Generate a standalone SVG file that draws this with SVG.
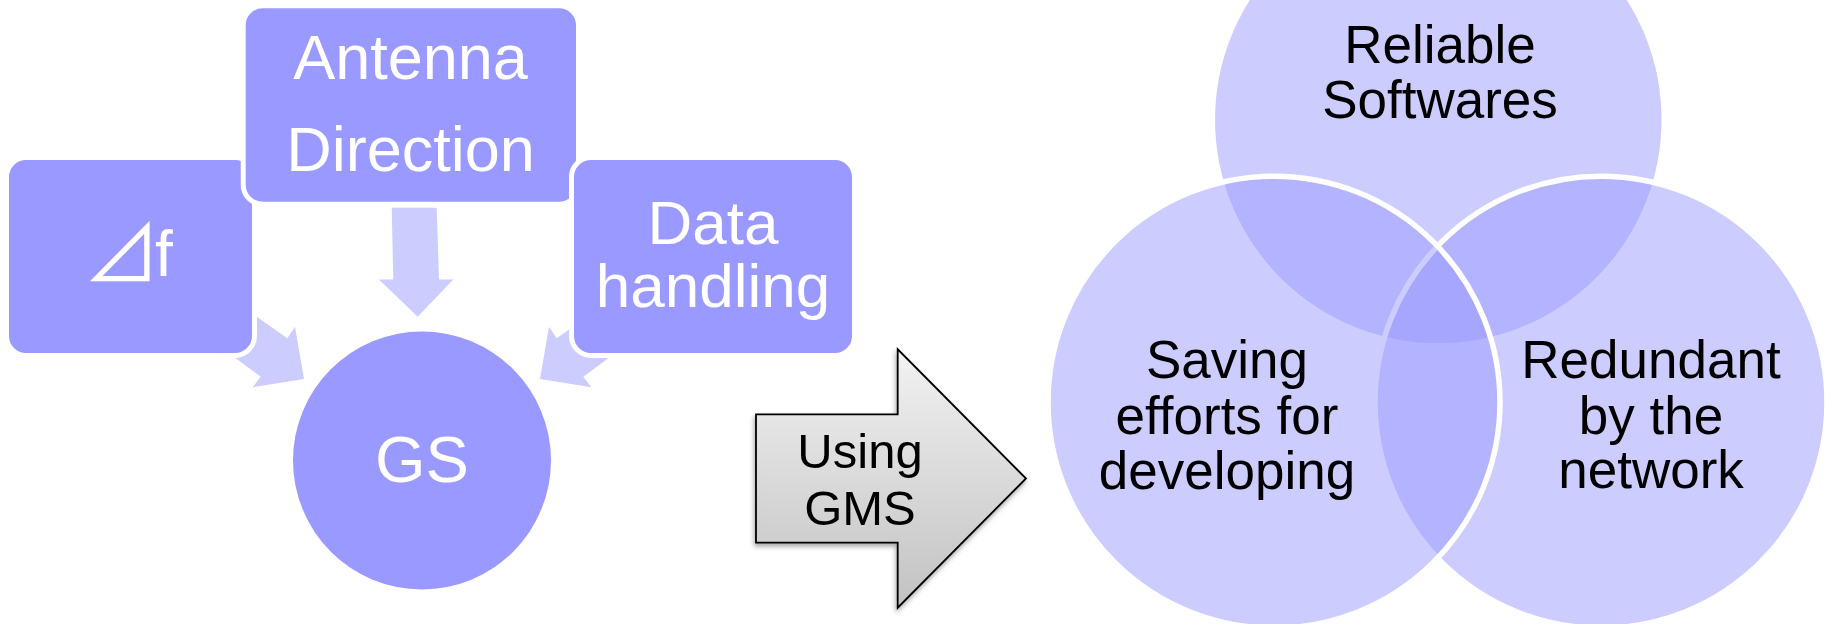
<svg xmlns="http://www.w3.org/2000/svg" width="1827" height="624" viewBox="0 0 1827 624">
  <defs>
    <style>
      .box { fill: #9999FF; stroke: #FFFFFF; stroke-width: 5; }
      .flow { fill: #CCCCFF; stroke: none; }
      .wt { font-family: "Liberation Sans", Arial, sans-serif; fill: #FFFFFF; text-anchor: middle; }
      .bt { font-family: "Liberation Sans", Arial, sans-serif; fill: #000000; text-anchor: middle; }
      .venn { fill: #9999FF; fill-opacity: 0.5; stroke: #FFFFFF; stroke-width: 5.5; }
    </style>
    <linearGradient id="gmsGrad" x1="0" y1="0" x2="0" y2="1">
      <stop offset="0" stop-color="#F2F2F2"/>
      <stop offset="1" stop-color="#C2C2C2"/>
    </linearGradient>
    <filter id="shadow" x="-10%" y="-10%" width="120%" height="120%">
      <feDropShadow dx="-1" dy="3" stdDeviation="2.5" flood-color="#000000" flood-opacity="0.35"/>
    </filter>
  </defs>
  <rect x="0" y="0" width="1827" height="624" fill="#FFFFFF"/>

  <g id="connectors">
    <polygon class="flow" points="391.7,207.7 436.7,207.7 439,279.5 453.3,279.5 417.7,316.7 379,279.5 393.3,279.5"/>
    <polygon class="flow" points="242.1,306.5 287.3,338.3 295,326.7 304,379 252.7,387.3 260.7,376.7 222.1,348.2"/>
    <polygon class="flow" points="601.9,306.5 556.7,338.3 549,326.7 540,379 591.3,387.3 583.3,376.7 621.9,348.2"/>
  </g>

  <g id="node-df">
    <rect class="box" x="6.5" y="157.5" width="248" height="198" rx="19.5" ry="19.5"/>
    <text class="wt" x="83" y="282" font-size="64" style="text-anchor:start"><tspan font-size="77" letter-spacing="-5" font-family="'Noto Sans CJK JP', 'DejaVu Sans', sans-serif">⊿</tspan><tspan dy="-6">f</tspan></text>
  </g>

  <g id="node-antenna">
    <rect class="box" x="243.2" y="5.8" width="335.3" height="198.4" rx="19.5" ry="19.5"/>
    <text class="wt" x="410.5" y="79.3" font-size="63">Antenna</text>
    <text class="wt" x="410.5" y="171" font-size="63">Direction</text>
  </g>

  <g id="node-data">
    <rect class="box" x="571.5" y="157.5" width="283" height="198" rx="19.5" ry="19.5"/>
    <text class="wt" x="713" y="244" font-size="62">Data</text>
    <text class="wt" x="713" y="306.7" font-size="62">handling</text>
  </g>

  <g id="node-gs">
    <circle cx="422" cy="460.5" r="129" fill="#9999FF"/>
    <text class="wt" x="422" y="481.7" font-size="65">GS</text>
  </g>

  <g id="node-using-gms">
    <polygon points="756,414.3 897.7,414.3 897.7,349.3 1026,478.5 897.7,607.7 897.7,542.7 756,542.7" fill="url(#gmsGrad)" stroke="#000000" stroke-width="1.8" stroke-linejoin="miter" filter="url(#shadow)"/>
    <text class="bt" x="860" y="468.3" font-size="49">Using</text>
    <text class="bt" x="860" y="525" font-size="49">GMS</text>
  </g>

  <g id="node-reliable">
    <circle class="venn" cx="1438.3" cy="119.8" r="226"/>
  </g>
  <g id="node-redundant">
    <circle class="venn" cx="1601" cy="402.2" r="226"/>
  </g>
  <g id="node-saving">
    <circle class="venn" cx="1274" cy="402.2" r="226"/>
  </g>

  <g id="venn-labels">
    <text class="bt" x="1440" y="62.7" font-size="53">Reliable</text>
    <text class="bt" x="1440" y="118.3" font-size="53">Softwares</text>
    <text class="bt" x="1227" y="378.3" font-size="53">Saving</text>
    <text class="bt" x="1227" y="434" font-size="53">efforts for</text>
    <text class="bt" x="1227" y="489.3" font-size="53">developing</text>
    <text class="bt" x="1651" y="378.3" font-size="53">Redundant</text>
    <text class="bt" x="1651" y="434" font-size="53">by the</text>
    <text class="bt" x="1651" y="488.3" font-size="53">network</text>
  </g>
</svg>
